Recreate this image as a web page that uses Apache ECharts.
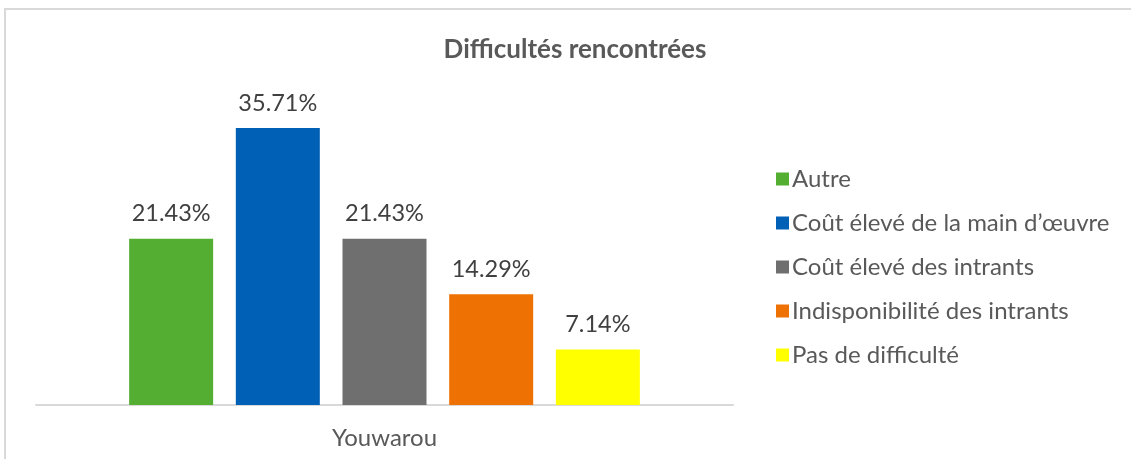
<!DOCTYPE html>
<html>
<head>
<meta charset="utf-8">
<script src="https://cdn.jsdelivr.net/npm/echarts@6/dist/echarts.min.js"></script>
<style>
html,body{margin:0;padding:0;background:#fff;}
#c{width:1131px;height:459px;}
</style>
</head>
<body>
<div id="c"></div>
<script>
const categories = ['Youwarou'];
const seriesNames = ['Autre', 'Coût élevé de la main d’œuvre', 'Coût élevé des intrants', 'Indisponibilité des intrants', 'Pas de difficulté'];
const seriesValues = [21.43, 35.71, 21.43, 14.29, 7.14];
const seriesColors = ['#53AE32', '#0060B6', '#6F6F6F', '#EE7103', '#FFFF00'];
const titleText = 'Difficultés rencontrées';

const chart = echarts.init(document.getElementById('c'), null, {renderer: 'canvas'});
const FONT = 'Lato';

const series = seriesNames.map((name, i) => ({
  name: name,
  type: 'bar',
  data: [seriesValues[i]],
  barWidth: 84,
  barGap: '27%',
  itemStyle: {color: seriesColors[i]},
  label: {
    show: true,
    position: 'top',
    distance: 13,
    formatter: p => p.value.toFixed(2) + '%',
    fontFamily: FONT,
    fontSize: 23.5,
    color: '#404040'
  }
}));

chart.setOption({
  animation: false,
  title: {
    text: titleText,
    left: 570,
    textAlign: 'center',
    top: 32,
    textStyle: {fontFamily: FONT, fontSize: 26, fontWeight: 'bold', color: '#595959'}
  },
  legend: {
    orient: 'vertical',
    left: 771,
    top: 162,
    itemWidth: 13,
    itemHeight: 13,
    itemGap: 20,
    icon: 'rect',
    textStyle: {fontFamily: FONT, fontSize: 24, color: '#595959', padding: [0, 0, 0, -2]},
    data: seriesNames
  },
  grid: {left: 36, right: 398, top: 94.7, bottom: 54, containLabel: false},
  xAxis: {
    type: 'category',
    data: categories,
    axisLine: {show: true, lineStyle: {color: '#D9D9D9', width: 2}},
    axisTick: {show: false},
    axisLabel: {fontFamily: FONT, fontSize: 24, color: '#595959', margin: 21}
  },
  yAxis: {
    type: 'value',
    min: 0,
    max: 40,
    show: false,
    splitLine: {show: false}
  },
  graphic: [{
    type: 'rect',
    shape: {x: 5, y: 9, width: 1140, height: 470},
    style: {fill: 'none', stroke: '#D9D9D9', lineWidth: 2},
    silent: true
  }],
  series: series
});
</script>
</body>
</html>
